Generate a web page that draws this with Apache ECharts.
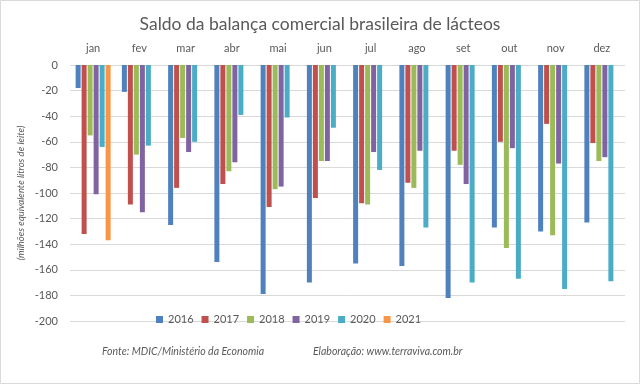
<!DOCTYPE html>
<html><head><meta charset="utf-8">
<script src="https://cdn.jsdelivr.net/npm/echarts@6/dist/echarts.min.js"></script>
<style>html,body{margin:0;padding:0;background:#fff}#c{width:640px;height:384px}</style>
</head><body><div id="c"></div>
<script>
const months = ['jan','fev','mar','abr','mai','jun','jul','ago','set','out','nov','dez'];
const years = ['2016','2017','2018','2019','2020','2021'];
const colors = ['#4F81BD','#C0504D','#9BBB59','#8064A2','#4BACC6','#F79646'];
const s2016 = [-18,-21,-125,-154,-179,-170,-155,-157,-182,-127,-130,-123];
const s2017 = [-132,-109,-96,-93,-111,-104,-108,-92,-67,-60,-46,-61];
const s2018 = [-55,-70,-57,-83,-97,-75,-109,-96,-78,-143,-133,-75];
const s2019 = [-101,-115,-68,-76,-95,-75,-68,-67,-93,-65,-77,-72];
const s2020 = [-64,-63,-60,-39,-41,-49,-82,-127,-170,-167,-175,-169];
const s2021 = [-137,null,null,null,null,null,null,null,null,null,null,null];
const yTicks = {min:-200, max:0, interval:20};
const seriesData = [s2016,s2017,s2018,s2019,s2020,s2021];
const font = 'Lato';
const chart = echarts.init(document.getElementById('c'));
chart.setOption({
  animation:false,
  color: colors,
  title:{text:'Saldo da balança comercial brasileira de lácteos',left:'center',top:10,
    textStyle:{fontFamily:font,fontSize:17.5,fontWeight:'normal',color:'#595959'}},
  legend:{data:years,left:151,top:309,itemWidth:7,itemHeight:7,itemGap:8,icon:'rect',
    textStyle:{fontFamily:font,fontSize:11,color:'#595959'}},
  grid:{left:70,right:15,top:65,bottom:63},
  xAxis:{type:'category',data:months,position:'top',
    axisLine:{show:false},axisTick:{show:false},
    axisLabel:{fontFamily:font,fontSize:11,color:'#595959',margin:11}},
  yAxis:{type:'value',min:yTicks.min,max:yTicks.max,interval:yTicks.interval,
    name:'(milhões equivalente litros de leite)',nameLocation:'middle',nameGap:44,nameRotate:90,
    nameMoveOverlap:false,
    nameTextStyle:{fontFamily:font,fontSize:9.5,fontStyle:'italic',color:'#595959'},
    axisLine:{show:false},axisTick:{show:false},
    axisLabel:{fontFamily:font,fontSize:11,color:'#595959',margin:12},
    splitLine:{lineStyle:{color:'#D9D9D9',width:1}}},
  series: years.map((y,i)=>({name:y,type:'bar',data:seriesData[i],barWidth:5,barGap:'20%',
    itemStyle:{color:colors[i]}})),
  graphic:[
    {type:'rect',shape:{x:0.5,y:0.5,width:639,height:383},style:{fill:null,stroke:'#D9D9D9',lineWidth:1},silent:true},
    {type:'text',left:102,top:346,style:{text:'Fonte: MDIC/Ministério da Economia',fontFamily:font,fontSize:10.5,fontStyle:'italic',fill:'#595959'}},
    {type:'text',left:313,top:346,style:{text:'Elaboração: www.terraviva.com.br',fontFamily:font,fontSize:10.5,fontStyle:'italic',fill:'#595959'}}
  ]
});
</script></body></html>
